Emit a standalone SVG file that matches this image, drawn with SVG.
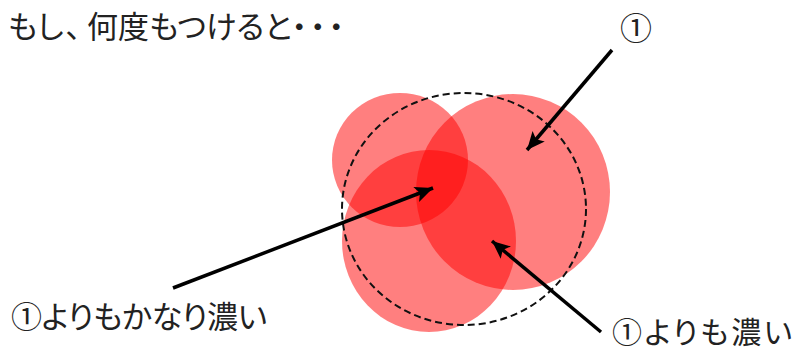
<svg xmlns="http://www.w3.org/2000/svg" width="795" height="351" viewBox="0 0 795 351">
  <style>
    .lbl { font-family: "Noto Sans CJK JP", "Noto Sans", sans-serif; fill: #222; }
    .palt { font-feature-settings: "palt"; }
    .blob { fill: #FF0000; fill-opacity: 0.5; }
    .conn { stroke: #000; stroke-width: 3.5; fill: none; marker-end: url(#ah); }
  </style>
  <defs>
    <marker id="ah" markerUnits="userSpaceOnUse" markerWidth="22" markerHeight="22" viewBox="0 0 22 22" refX="20" refY="11" orient="auto">
      <path d="M2,3 L20,11 L2,19 L6,11 Z" fill="#000"/>
    </marker>
  </defs>
  <rect width="795" height="351" fill="#fff"/>
  <g id="title"><text class="lbl palt" x="8" y="38" font-size="31" dx="0 0 2 6 0 0 0 0 0 0 0 3 3">もし、何度もつけると・・・</text></g>
  <g id="circle-upper-left"><ellipse class="blob" cx="400" cy="160" rx="68" ry="67"/></g>
  <g id="circle-right"><ellipse class="blob" cx="513" cy="192" rx="97" ry="98"/></g>
  <g id="circle-lower"><ellipse class="blob" cx="429" cy="241" rx="87" ry="91"/></g>
  <g id="dashed-outline"><ellipse cx="464" cy="209" rx="122" ry="116" fill="none" stroke="#111" stroke-width="2" stroke-dasharray="7,4"/></g>
  <g id="label-1"><text class="lbl" x="620" y="40" font-size="32">①</text></g>
  <g id="label-much-darker"><text class="lbl palt" x="11" y="328" font-size="31" textLength="256" lengthAdjust="spacing">①よりもかなり濃い</text></g>
  <g id="label-darker"><text class="lbl palt" x="612" y="343" font-size="30" textLength="180" lengthAdjust="spacing">①よりも濃い</text></g>
  <g id="connectors">
    <line class="conn" x1="612" y1="50" x2="527" y2="150"/>
    <line class="conn" x1="173" y1="288" x2="433" y2="188"/>
    <line class="conn" x1="601" y1="332" x2="492" y2="241"/>
  </g>
</svg>
